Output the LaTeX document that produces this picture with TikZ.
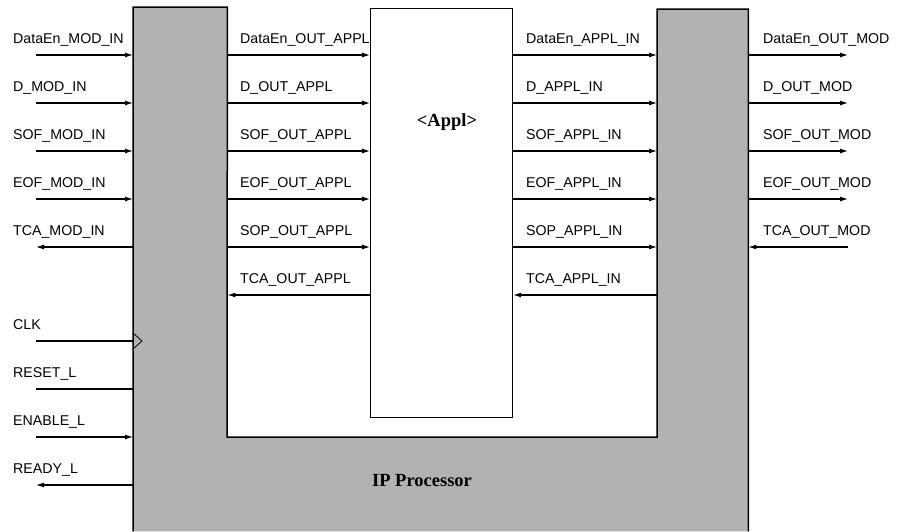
\documentclass[tikz,border=0pt]{standalone}
\usepackage{fontspec}
\setmainfont{Liberation Serif}
\setsansfont{Liberation Sans}
\usetikzlibrary{arrows.meta}
\begin{document}
\begin{tikzpicture}[x=1pt,y=-1pt,
  sig/.style={line width=1.1pt,-{Latex[length=8pt,width=5pt]}},
  wire/.style={line width=1.1pt},
  lbl/.style={font=\sffamily\fontsize{14.2}{17}\selectfont,anchor=base west,inner sep=0pt},
  ttl/.style={font=\bfseries\fontsize{18.5}{22}\selectfont,inner sep=0pt},
  colbox/.style={inner sep=0pt,anchor=north west},
  ushape/.style={fill=black!30},
  outline/.style={line width=1.5pt,line join=miter}]
\useasboundingbox (0,0) rectangle (897,531);
% columns and application box
\node[colbox,minimum width=94pt,minimum height=524pt] (lcol) at (133,7) {};
\node[colbox,minimum width=91pt,minimum height=522pt] (rcol) at (657,9) {};
\coordinate (inBL) at (227,437);
\coordinate (inBR) at (657,437);
\fill[ushape] (lcol.south west) -- (lcol.north west) -- (lcol.north east) -- (inBL) -- (inBR)
  -- (rcol.north west) -- (rcol.north east) -- (rcol.south east) -- cycle;
\draw[outline] (lcol.south west) -- (lcol.north west) -- (lcol.north east) -- (inBL) -- (inBR)
  -- (rcol.north west) -- (rcol.north east) -- (rcol.south east);
\node[colbox,draw,fill=white,line width=1.2pt,minimum width=142pt,minimum height=409pt] (appl) at (370,8) {};
\node[ttl] (appltxt) at (447,122) {<Appl>};
\node[ttl] (iptxt) at (422,481) {IP Processor};
% CLK triangle
\coordinate (clkA) at (133,333);
\coordinate (clkB) at (142,341);
\coordinate (clkC) at (133,349);
\draw[line width=0.8pt] (clkA) -- (clkB) -- (clkC);
% row coordinates
\foreach \n/\y in {1/55,2/103,3/151,4/199,5/247,6/295,7/341,8/389,9/437,10/485}{
  \coordinate (lin\n) at (36,\y);
  \coordinate (rout\n) at (848,\y);
}
% left side inputs
\foreach \n in {1,2,3,4}{
  \draw[sig] (lin\n) -- (lcol.west |- lin\n);
}
\draw[sig] (lcol.west |- lin5) -- (lin5);
\draw[wire] (lin7) -- (lcol.west |- lin7);
\draw[wire] (lin8) -- (lcol.west |- lin8);
\draw[sig] (lin9) -- (lcol.west |- lin9);
\draw[sig] (lcol.west |- lin10) -- (lin10);
% middle left / right
\foreach \n in {1,2,3,4,5}{
  \draw[sig] (lcol.east |- lin\n) -- (appl.west |- lin\n);
  \draw[sig] (appl.east |- lin\n) -- (rcol.west |- lin\n);
}
\draw[sig] (appl.west |- lin6) -- (lcol.east |- lin6);
\draw[sig] (rcol.west |- lin6) -- (appl.east |- lin6);
% right outputs
\foreach \n in {1,2,3,4}{
  \draw[sig] (rcol.east |- rout\n) -- (rout\n);
}
\draw[sig] (rout5) -- (rcol.east |- rout5);
% labels
\node[lbl] (l1) at (13,43) {DataEn\_MOD\_IN};
\node[lbl] (l2) at (13,91) {D\_MOD\_IN};
\node[lbl] (l3) at (13,139) {SOF\_MOD\_IN};
\node[lbl] (l4) at (13,187) {EOF\_MOD\_IN};
\node[lbl] (l5) at (13,235) {TCA\_MOD\_IN};
\node[lbl] (l7) at (13,329) {CLK};
\node[lbl] (l8) at (13,377) {RESET\_L};
\node[lbl] (l9) at (13,425) {ENABLE\_L};
\node[lbl] (l10) at (13,473) {READY\_L};
\node[lbl] (m1) at (240,43) {DataEn\_OUT\_APPL};
\node[lbl] (m2) at (240,91) {D\_OUT\_APPL};
\node[lbl] (m3) at (240,139) {SOF\_OUT\_APPL};
\node[lbl] (m4) at (240,187) {EOF\_OUT\_APPL};
\node[lbl] (m5) at (240,235) {SOP\_OUT\_APPL};
\node[lbl] (m6) at (240,283) {TCA\_OUT\_APPL};
\node[lbl] (n1) at (526,43) {DataEn\_APPL\_IN};
\node[lbl] (n2) at (526,91) {D\_APPL\_IN};
\node[lbl] (n3) at (526,139) {SOF\_APPL\_IN};
\node[lbl] (n4) at (526,187) {EOF\_APPL\_IN};
\node[lbl] (n5) at (526,235) {SOP\_APPL\_IN};
\node[lbl] (n6) at (526,283) {TCA\_APPL\_IN};
\node[lbl] (r1) at (763,43) {DataEn\_OUT\_MOD};
\node[lbl] (r2) at (763,91) {D\_OUT\_MOD};
\node[lbl] (r3) at (763,139) {SOF\_OUT\_MOD};
\node[lbl] (r4) at (763,187) {EOF\_OUT\_MOD};
\node[lbl] (r5) at (763,235) {TCA\_OUT\_MOD};
\end{tikzpicture}
\end{document}
